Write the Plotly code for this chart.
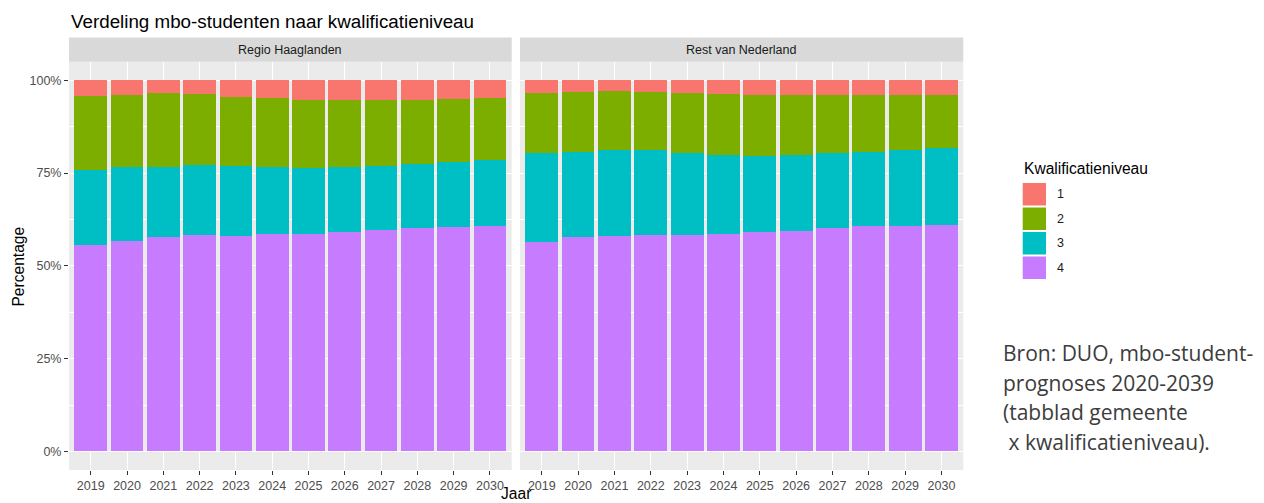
import plotly.graph_objects as go

# The page places the figure 8px from the top-left corner (default body margin),
# so the figure is sized to the remaining visible area and positions are offset.
OFF = 8
W, H = 1264 - OFF, 503 - OFF

years = ["2019", "2020", "2021", "2022", "2023", "2024", "2025", "2026", "2027", "2028", "2029", "2030"]
levels = ["1", "2", "3", "4"]
level_colors = ["#F8766D", "#7CAE00", "#00BFC4", "#C77CFF"]
regions = ["Regio Haaglanden", "Rest van Nederland"]
y_tick_values = [0, 25, 50, 75, 100]
y_tick_labels = ["0%", "25%", "50%", "75%", "100%"]

haaglanden_n1 = [4.2, 4.0, 3.3, 3.7, 4.5, 4.9, 5.2, 5.2, 5.2, 5.2, 5.0, 4.9]
haaglanden_n2 = [19.9, 19.4, 20.0, 19.1, 18.7, 18.6, 18.5, 18.2, 18.0, 17.4, 17.0, 16.6]
haaglanden_n3 = [20.4, 19.8, 18.8, 18.9, 18.7, 17.9, 17.6, 17.5, 17.1, 17.3, 17.6, 17.7]
haaglanden_n4 = [55.5, 56.8, 57.9, 58.3, 58.1, 58.6, 58.7, 59.1, 59.7, 60.1, 60.4, 60.8]

rest_n1 = [3.3, 3.1, 3.0, 3.1, 3.4, 3.7, 3.9, 3.9, 3.9, 3.9, 3.9, 3.9]
rest_n2 = [16.3, 16.1, 15.9, 15.8, 16.3, 16.5, 16.4, 16.1, 15.8, 15.3, 14.9, 14.4]
rest_n3 = [23.9, 23.1, 23.0, 22.7, 22.1, 21.2, 20.7, 20.5, 20.2, 20.1, 20.4, 20.6]
rest_n4 = [56.5, 57.7, 58.1, 58.4, 58.2, 58.6, 59.0, 59.5, 60.1, 60.7, 60.8, 61.1]

title_text = "Verdeling mbo-studenten naar kwalificatieniveau"
y_title = "Percentage"
x_title = "Jaar"
legend_title = "Kwalificatieniveau"
source_lines = ["Bron: DUO, mbo-student-", "prognoses 2020-2039", "(tabblad gemeente", "\u00a0x kwalificatieniveau)."]

FONT = "Liberation Sans, Arial, sans-serif"


def px(x):
    return (x - OFF) / W


def py(y):
    return (H - (y - OFF)) / H


fig = go.Figure()

panel_data = [
    [haaglanden_n1, haaglanden_n2, haaglanden_n3, haaglanden_n4],
    [rest_n1, rest_n2, rest_n3, rest_n4],
]
axes = [("x", "y"), ("x2", "y2")]

for p, series in enumerate(panel_data):
    xa, ya = axes[p]
    # stack bottom-up: level 4 first, level 1 on top
    for i in [3, 2, 1, 0]:
        fig.add_trace(go.Bar(
            x=years, y=series[i], name=levels[i],
            marker=dict(color=level_colors[i], line=dict(width=0)),
            xaxis=xa, yaxis=ya, showlegend=False,
        ))

x_domains = [[px(69), px(511.7)], [px(520), px(963.3)]]
y_domain = [py(470), py(61.7)]

common_x = dict(
    type="category", range=[-0.6, 11.6], showgrid=True, gridcolor="white", gridwidth=1.1,
    ticks="outside", ticklen=4, tickcolor="#333333", tickwidth=1.1,
    tickfont=dict(family=FONT, size=12.5, color="#4D4D4D"), showline=False, zeroline=False,
    fixedrange=True, automargin=False,
)
common_y = dict(
    range=[-5, 105], tickmode="array", tickvals=y_tick_values, ticktext=y_tick_labels,
    showgrid=True, gridcolor="white", gridwidth=1.1,
    minor=dict(tickmode="array", tickvals=[12.5, 37.5, 62.5, 87.5], showgrid=True,
               gridcolor="white", gridwidth=0.55, ticks=""),
    ticks="outside", ticklen=4, tickcolor="#333333", tickwidth=1.1,
    tickfont=dict(family=FONT, size=12.5, color="#4D4D4D"), showline=False, zeroline=False,
    domain=y_domain, fixedrange=True, automargin=False,
)

fig.update_layout(
    width=W, height=H, autosize=False,
    margin=dict(l=0, r=0, t=0, b=0, pad=0, autoexpand=False),
    paper_bgcolor="white", plot_bgcolor="#EBEBEB",
    barmode="stack", bargap=0.1,
    showlegend=False,
    xaxis=dict(common_x, domain=x_domains[0], anchor="y"),
    xaxis2=dict(common_x, domain=x_domains[1], anchor="y2"),
    yaxis=dict(common_y, anchor="x"),
    yaxis2=dict(common_y, anchor="x2", showticklabels=False, ticks=""),
)

shapes = []
annotations = []

# facet strips
for p, name in enumerate(regions):
    x0, x1 = x_domains[p]
    shapes.append(dict(type="rect", xref="paper", yref="paper", x0=x0, x1=x1,
                       y0=py(61.7), y1=py(37.5), fillcolor="#D9D9D9", line=dict(width=0), layer="below"))
    annotations.append(dict(text=name, xref="paper", yref="paper", x=(x0 + x1) / 2, y=py(50),
                            xanchor="center", yanchor="middle", showarrow=False,
                            font=dict(family=FONT, size=12.5, color="#1A1A1A")))

# title
annotations.append(dict(text=title_text, xref="paper", yref="paper", x=px(68.5), y=py(22),
                        xanchor="left", yanchor="middle", showarrow=False,
                        font=dict(family=FONT, size=18.8, color="#000000")))

# axis titles
annotations.append(dict(text=y_title, xref="paper", yref="paper", x=px(18.3), y=py(266.3),
                        xanchor="center", yanchor="middle", textangle=-90, showarrow=False,
                        font=dict(family=FONT, size=15.6, color="#000000")))
annotations.append(dict(text=x_title, xref="paper", yref="paper", x=px(516), y=py(504),
                        xanchor="center", yanchor="bottom", showarrow=False,
                        font=dict(family=FONT, size=15.6, color="#000000")))

# legend (manual, ggplot style)
annotations.append(dict(text=legend_title, xref="paper", yref="paper", x=px(1022.3), y=py(168),
                        xanchor="left", yanchor="middle", showarrow=False,
                        font=dict(family=FONT, size=15.6, color="#000000")))
key_top = 183.0
key_pitch = 24.5
for i, lab in enumerate(levels):
    t = key_top + i * key_pitch
    shapes.append(dict(type="rect", xref="paper", yref="paper", x0=px(1022.7), x1=px(1046),
                       y0=py(t + 22.5), y1=py(t), fillcolor=level_colors[i], line=dict(width=0)))
    annotations.append(dict(text=lab, xref="paper", yref="paper", x=px(1054.5), y=py(t + 11.2),
                            xanchor="left", yanchor="middle", showarrow=False,
                            font=dict(family=FONT, size=12.5, color="#1A1A1A")))

# source note
for i, line in enumerate(source_lines):
    annotations.append(dict(text=line, xref="paper", yref="paper", x=px(1000.5), y=py(353 + i * 29.5),
                            xanchor="left", yanchor="middle", showarrow=False,
                            font=dict(family="Open Sans, sans-serif", size=21, color="#3C3C3C")))

fig.update_layout(shapes=shapes, annotations=annotations)

fig.write_html("out.html", config={"displayModeBar": False})
